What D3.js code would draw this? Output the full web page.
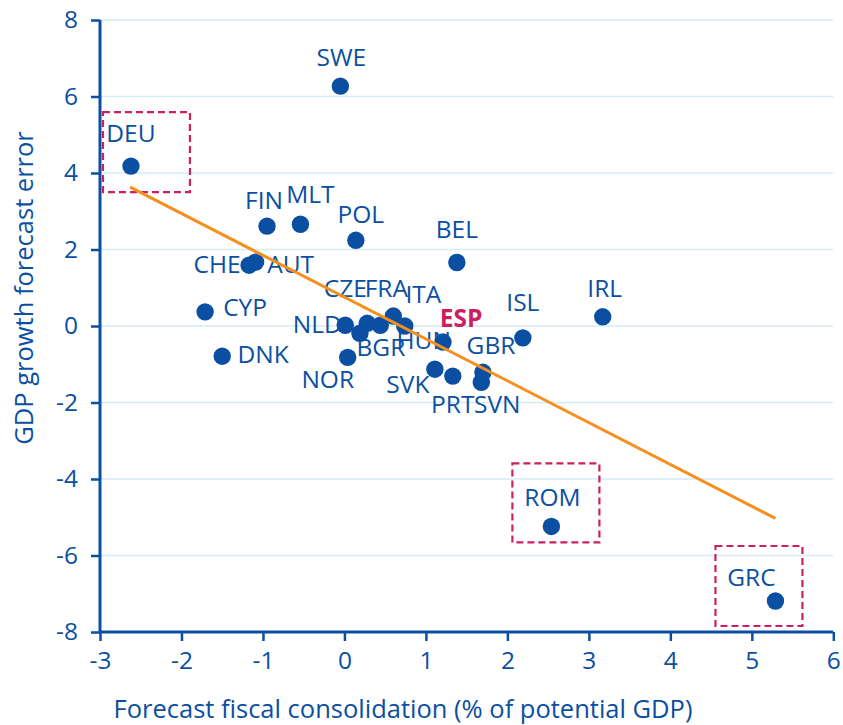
<!DOCTYPE html>
<html>
<head>
<meta charset="utf-8">
<script src="https://cdn.jsdelivr.net/npm/d3@7"></script>
<style>
  html, body { margin: 0; padding: 0; background: #fff; }
  svg { display: block; font-family: "Open Sans", "Noto Sans", sans-serif; }
</style>
</head>
<body>
<svg id="chart" width="843" height="725"></svg>
<script>
// ---- data ----
const countries = ["SWE","DEU","FIN","MLT","POL","BEL","IRL","ISL","CHE","AUT","CYP","DNK",
                   "NLD","BGR","CZE","FRA","ITA","HUN","ESP","NOR","SVK","PRT","GBR","SVN","ROM","GRC"];
const consolidation = [-0.05,-2.62,-0.95,-0.54,0.14,1.38,3.17,2.19,-1.17,-1.09,-1.71,-1.50,
                       0.01,0.19,0.28,0.44,0.60,0.74,1.21,0.04,1.11,1.33,1.70,1.68,2.54,5.29];
const forecastError = [6.27,4.18,2.61,2.66,2.24,1.66,0.24,-0.31,1.59,1.67,0.37,-0.79,
                       0.02,-0.19,0.07,0.02,0.26,0.00,-0.42,-0.82,-1.13,-1.31,-1.21,-1.47,-5.24,-7.19];
const highlighted = ["ESP"];
const boxedCountries = ["DEU","ROM","GRC"];
const trendX = [-2.63, 5.29];
const trendY = [3.63, -5.03];
const xTicks = [-3,-2,-1,0,1,2,3,4,5,6];
const yTicks = [-8,-6,-4,-2,0,2,4,6,8];
const xTitle = "Forecast fiscal consolidation (% of potential GDP)";
const yTitle = "GDP growth forecast error";

// ---- styling (label offsets in px, box extents around boxed points) ----
const labelOffsets = {
  SWE:[1,-20], DEU:[0,-24], FIN:[-3,-17], MLT:[10,-21], POL:[5,-17], BEL:[0,-25],
  IRL:[2,-20], ISL:[0,-27], CHE:[-32,8], AUT:[35,11], CYP:[40,4], DNK:[41,7],
  NLD:[-28,8], BGR:[21,23], CZE:[-22,-26], FRA:[6,-28], ITA:[30,-13], HUN:[19,23],
  ESP:[18,-15], NOR:[-20,31], SVK:[-27,24], PRT:[0,37], GBR:[8,-18], SVN:[16,31],
  ROM:[1,-20], GRC:[-24,-15]
};
const boxPad = { DEU:[-28,59,-54,26], ROM:[-39,48,-63,16], GRC:[-60,27,-55,25] }; // [left,right,top,bottom] px

const BLUE = "#0b4fa2", ORANGE = "#f5901f", MAGENTA = "#cc1f62", GRID = "#d3ecf8";
const FS_LABEL = 24.5, FS_TICK = 24.5, FS_TITLE = 25.5;

const svg = d3.select("#chart");
const x = d3.scaleLinear().domain([-3, 6]).range([100, 833.3]);
const y = d3.scaleLinear().domain([-8, 8]).range([632, 20]);

// gridlines
svg.append("g").selectAll("line").data(yTicks.filter(d => d !== -8)).join("line")
  .attr("x1", x(-3)).attr("x2", x(6))
  .attr("y1", d => y(d)).attr("y2", d => y(d))
  .attr("stroke", GRID).attr("stroke-width", 1.5);

// axes
const xAxis = svg.append("g").attr("transform", `translate(0,${y(-8)})`)
  .call(d3.axisBottom(x).tickValues(xTicks).tickSize(9).tickPadding(11).tickFormat(d3.format("d")));
const yAxis = svg.append("g").attr("transform", `translate(${x(-3)},0)`)
  .call(d3.axisLeft(y).tickValues(yTicks).tickSize(9).tickPadding(13).tickFormat(d3.format("d")));
[xAxis, yAxis].forEach(a => {
  a.select(".domain").attr("stroke", BLUE).attr("stroke-width", 3);
  a.selectAll(".tick line").attr("stroke", BLUE).attr("stroke-width", 2.5);
  a.selectAll(".tick text").attr("fill", BLUE).attr("font-size", FS_TICK)
    .attr("font-family", "'Open Sans', 'Noto Sans', sans-serif")
    .text(d => d < 0 ? "-" + Math.abs(d) : String(d));
});
xAxis.select(".domain").attr("d", `M${x(-3)},0H${x(6)}`);
yAxis.select(".domain").attr("d", `M0,${y(8)}V${y(-8)}`);

// axis titles
svg.append("text").attr("x", 403).attr("y", 718).attr("text-anchor", "middle")
  .attr("fill", BLUE).attr("font-size", FS_TITLE).text(xTitle);
svg.append("text").attr("transform", `translate(33,288) rotate(-90)`).attr("text-anchor", "middle")
  .attr("fill", BLUE).attr("font-size", FS_TITLE).text(yTitle);

const pts = countries.map((c, i) => ({c, x: consolidation[i], y: forecastError[i]}));

// dashed boxes
svg.append("g").selectAll("rect").data(pts.filter(p => boxedCountries.includes(p.c))).join("rect")
  .attr("x", p => x(p.x) + boxPad[p.c][0])
  .attr("y", p => y(p.y) + boxPad[p.c][2])
  .attr("width", p => boxPad[p.c][1] - boxPad[p.c][0])
  .attr("height", p => boxPad[p.c][3] - boxPad[p.c][2])
  .attr("fill", "none").attr("stroke", MAGENTA).attr("stroke-width", 2.2)
  .attr("stroke-dasharray", "7,4");

// labels
svg.append("g").selectAll("text").data(pts).join("text")
  .attr("x", p => x(p.x) + labelOffsets[p.c][0])
  .attr("y", p => y(p.y) + labelOffsets[p.c][1])
  .attr("text-anchor", "middle")
  .attr("font-size", FS_LABEL)
  .attr("font-weight", p => highlighted.includes(p.c) ? "bold" : "normal")
  .attr("fill", p => highlighted.includes(p.c) ? MAGENTA : BLUE)
  .text(p => p.c);

// points
svg.append("g").selectAll("circle").data(pts).join("circle")
  .attr("cx", p => x(p.x)).attr("cy", p => y(p.y)).attr("r", 8.7)
  .attr("fill", BLUE);

// trend line
svg.append("line")
  .attr("x1", x(trendX[0])).attr("y1", y(trendY[0]))
  .attr("x2", x(trendX[1])).attr("y2", y(trendY[1]))
  .attr("stroke", ORANGE).attr("stroke-width", 3);
</script>
</body>
</html>
